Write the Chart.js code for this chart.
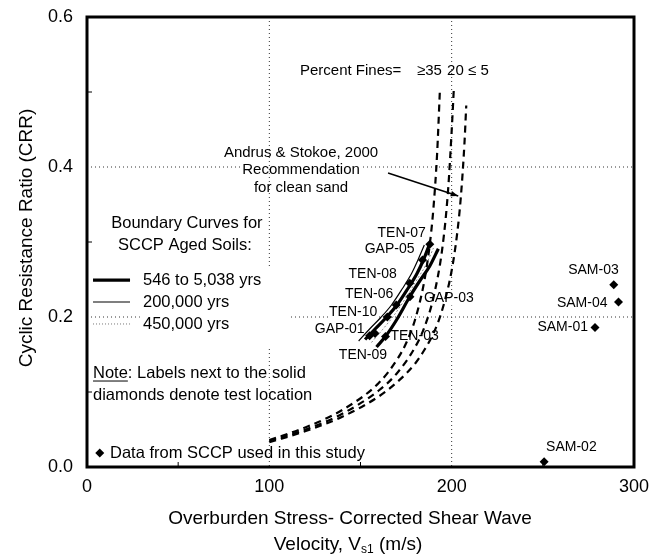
<!DOCTYPE html>
<html>
<head>
<meta charset="utf-8">
<script src="https://cdn.jsdelivr.net/npm/chart.js@4.4.0/dist/chart.umd.min.js"></script>
<style>
  html, body { margin: 0; padding: 0; background: #fff; }
</style>
</head>
<body>
<canvas id="crr-chart" width="651" height="560"></canvas>
<script>
// Andrus & Stokoe (2000) curves
const vsFines35 = [100, 120, 140, 160, 170, 175, 180, 185, 188, 190, 192, 193.5];
const crrFines35 = [0.036, 0.053, 0.076, 0.112, 0.143, 0.165, 0.197, 0.248, 0.297, 0.345, 0.417, 0.500];
const vsFines20 = [100, 120, 140, 160, 170, 180, 185, 190, 195, 198, 200, 201.2];
const crrFines20 = [0.035, 0.050, 0.071, 0.102, 0.125, 0.160, 0.186, 0.226, 0.294, 0.368, 0.448, 0.505];
const vsFines5 = [100, 120, 140, 160, 170, 180, 185, 190, 195, 200, 203, 205, 207, 208];
const crrFines5 = [0.033, 0.048, 0.067, 0.094, 0.113, 0.138, 0.156, 0.178, 0.211, 0.262, 0.311, 0.359, 0.431, 0.482];

// boundary curves for aged soils
const vsAged200k = [149, 155, 161, 167, 173, 178, 181.5, 185];
const crrAged200k = [0.168, 0.184, 0.199, 0.216, 0.238, 0.258, 0.276, 0.296];
const vsAgedYoungA = [152.5, 158, 164, 170, 176, 181, 184.5, 188];
const crrAgedYoungA = [0.170, 0.184, 0.199, 0.216, 0.238, 0.258, 0.276, 0.298];
const vsAgedYoungB = [158.8, 164, 170, 177, 183, 188, 192.7];
const crrAgedYoungB = [0.160, 0.175, 0.197, 0.227, 0.250, 0.268, 0.291];
const vsAged450k = [156, 162, 168, 175, 181, 186, 190];
const crrAged450k = [0.166, 0.183, 0.201, 0.226, 0.250, 0.270, 0.292];

// SCCP test data (solid diamonds)
const sccpNames = ["TEN-07", "GAP-05", "TEN-08", "GAP-03", "TEN-06", "TEN-10", "GAP-01", "TEN-09", "TEN-03"];
const sccpVs = [188, 184, 177, 177.1, 169.6, 164.7, 155, 158, 163.7];
const sccpCrr = [0.297, 0.276, 0.245, 0.227, 0.216, 0.200, 0.175, 0.178, 0.174];
const samNames = ["SAM-03", "SAM-04", "SAM-01", "SAM-02"];
const samVs = [288.9, 291.5, 278.6, 250.7];
const samCrr = [0.243, 0.220, 0.186, 0.007];

const xTicks = [0, 100, 200, 300];
const yTicks = [0, 0.2, 0.4, 0.6];

// label placement next to each diamond: [align, dx, dy] in pixels
const sccpLabelPos = [["right", -4, -11], ["right", -8, -11], ["right", -13, -9], ["left", 14, 1],
  ["right", -3, -11], ["right", -10, -5], ["right", -5, -7], ["right", 12, 22], ["left", 5, 0]];
const samLabelPos = [["right", 5, -15], ["right", -11, 1], ["right", -7, 0], ["left", 2, -15]];

const FONT = "Arial, 'Liberation Sans', sans-serif";

function toPoints(xs, ys) {
  return xs.map((v, i) => ({ x: v, y: ys[i] }));
}

function curve(xs, ys, width, dash, color) {
  return {
    data: toPoints(xs, ys),
    showLine: true,
    borderColor: color || "#000",
    borderWidth: width,
    borderDash: dash || [],
    pointRadius: 0,
    fill: false,
    cubicInterpolationMode: "monotone",
  };
}

function diamonds(xs, ys) {
  return {
    data: toPoints(xs, ys),
    showLine: false,
    pointStyle: "rectRot",
    pointRadius: 4.5,
    backgroundColor: "#000",
    borderColor: "#000",
    borderWidth: 0,
  };
}

// draw one text, optionally with a white box behind it
function drawText(ctx, str, px, py, size, align, mode) {
  ctx.font = size + "px " + FONT;
  ctx.textAlign = align;
  ctx.textBaseline = "middle";
  if (mode === "bg") {
    const w = ctx.measureText(str).width;
    let left = px;
    if (align === "right") left = px - w;
    if (align === "center") left = px - w / 2;
    ctx.fillStyle = "#fff";
    ctx.fillRect(left - 1, py - size * 0.55, w + 2, size * 1.1);
  } else {
    ctx.fillStyle = "#000";
    ctx.fillText(str, px, py);
  }
}

function pointLabels(chart, mode) {
  const ctx = chart.ctx;
  const x = chart.scales.x, y = chart.scales.y;
  sccpNames.forEach((name, i) => {
    const p = sccpLabelPos[i];
    drawText(ctx, name, x.getPixelForValue(sccpVs[i]) + p[1], y.getPixelForValue(sccpCrr[i]) + p[2], 14, p[0], mode);
  });
  samNames.forEach((name, i) => {
    const p = samLabelPos[i];
    drawText(ctx, name, x.getPixelForValue(samVs[i]) + p[1], y.getPixelForValue(samCrr[i]) + p[2], 14, p[0], mode);
  });
}

function dottedLine(ctx, x1, y1, x2, y2) {
  ctx.save();
  ctx.strokeStyle = "#333";
  ctx.lineWidth = 1;
  ctx.setLineDash([1, 3]);
  ctx.beginPath();
  ctx.moveTo(x1, y1);
  ctx.lineTo(x2, y2);
  ctx.stroke();
  ctx.restore();
}

const decorPlugin = {
  id: "decor",
  beforeDatasetsDraw(chart) {
    const { ctx, chartArea: a } = chart;
    const x = chart.scales.x, y = chart.scales.y;
    // horizontal grid
    [0.2, 0.4].forEach((v) => dottedLine(ctx, a.left, y.getPixelForValue(v), a.right, y.getPixelForValue(v)));
    drawText(ctx, "Recommendation", x.getPixelForValue(117.4), y.getPixelForValue(0.396), 15, "center", "bg");
    // vertical grid
    [100, 200].forEach((v) => dottedLine(ctx, x.getPixelForValue(v), a.top, x.getPixelForValue(v), a.bottom));
    // white text box of the legend
    ctx.fillStyle = "#fff";
    const bx1 = x.getPixelForValue(29), bx2 = x.getPixelForValue(111.3);
    const by1 = y.getPixelForValue(0.2667), by2 = y.getPixelForValue(0.16);
    ctx.fillRect(bx1, by1, bx2 - bx1, by2 - by1);
    pointLabels(chart, "bg");
  },
  afterDatasetsDraw(chart) {
    const { ctx, chartArea: a } = chart;
    const x = chart.scales.x, y = chart.scales.y;
    ctx.save();
    // frame
    ctx.strokeStyle = "#000";
    ctx.lineWidth = 3;
    ctx.strokeRect(a.left, a.top, a.right - a.left, a.bottom - a.top);
    // minor ticks
    ctx.lineWidth = 1;
    [50, 150, 250].forEach((v) => {
      const px = x.getPixelForValue(v);
      ctx.beginPath(); ctx.moveTo(px, a.bottom); ctx.lineTo(px, a.bottom - 5); ctx.stroke();
    });
    [0.1, 0.3, 0.5].forEach((v) => {
      const py = y.getPixelForValue(v);
      ctx.beginPath(); ctx.moveTo(a.left, py); ctx.lineTo(a.left + 5, py); ctx.stroke();
    });

    // tick labels
    xTicks.forEach((v) => drawText(ctx, String(v), x.getPixelForValue(v), a.bottom + 20, 18, "center"));
    yTicks.forEach((v) => drawText(ctx, v.toFixed(1), a.left - 14, y.getPixelForValue(v), 18, "right"));

    pointLabels(chart, "text");

    // percent fines header
    const fy = y.getPixelForValue(0.528);
    drawText(ctx, "Percent Fines=", x.getPixelForValue(116.8), fy, 15, "left");
    drawText(ctx, "\u226535", x.getPixelForValue(181), fy, 15, "left");
    drawText(ctx, "20", x.getPixelForValue(197.5), fy, 15, "left");
    drawText(ctx, "\u2264 5", x.getPixelForValue(209), fy, 15, "left");

    // Andrus & Stokoe note with arrow
    const ax = x.getPixelForValue(117.4);
    drawText(ctx, "Andrus & Stokoe, 2000", ax, y.getPixelForValue(0.4187), 15, "center");
    drawText(ctx, "Recommendation", ax, y.getPixelForValue(0.396), 15, "center");
    drawText(ctx, "for clean sand", ax, y.getPixelForValue(0.372), 15, "center");
    const x1 = x.getPixelForValue(165.1), y1 = y.getPixelForValue(0.392);
    const x2 = x.getPixelForValue(203.6), y2 = y.getPixelForValue(0.3613);
    ctx.lineWidth = 1.5;
    ctx.beginPath(); ctx.moveTo(x1, y1); ctx.lineTo(x2, y2); ctx.stroke();
    const ang = Math.atan2(y2 - y1, x2 - x1);
    ctx.fillStyle = "#000";
    ctx.beginPath();
    ctx.moveTo(x2, y2);
    ctx.lineTo(x2 - 8 * Math.cos(ang - 0.35), y2 - 8 * Math.sin(ang - 0.35));
    ctx.lineTo(x2 - 8 * Math.cos(ang + 0.35), y2 - 8 * Math.sin(ang + 0.35));
    ctx.closePath();
    ctx.fill();

    // legend block
    drawText(ctx, "Boundary Curves for", x.getPixelForValue(54.8), y.getPixelForValue(0.3253), 16.5, "center");
    drawText(ctx, "SCCP Aged Soils:", x.getPixelForValue(53.7), y.getPixelForValue(0.296), 16.5, "center");
    const rows = [["546 to 5,038 yrs", 0.2493, 3.2, [], "#000"],
      ["200,000 yrs", 0.22, 1.2, [], "#000"],
      ["450,000 yrs", 0.1907, 1, [1, 2], "#777"]];
    rows.forEach((r) => {
      const py = y.getPixelForValue(r[1]);
      ctx.save();
      ctx.strokeStyle = r[4];
      ctx.lineWidth = r[2];
      ctx.setLineDash(r[3]);
      ctx.beginPath();
      ctx.moveTo(x.getPixelForValue(3.3), py);
      ctx.lineTo(x.getPixelForValue(23.6), py);
      ctx.stroke();
      ctx.restore();
      drawText(ctx, r[0], x.getPixelForValue(30.7), py, 16.5, "left");
    });

    // note
    const nx = x.getPixelForValue(3.3);
    const ny = y.getPixelForValue(0.1253);
    drawText(ctx, "Note", nx, ny, 16.5, "left");
    ctx.font = "16.5px " + FONT;
    const nw = ctx.measureText("Note").width;
    ctx.lineWidth = 1;
    ctx.beginPath(); ctx.moveTo(nx, ny + 8); ctx.lineTo(nx + nw, ny + 8); ctx.stroke();
    drawText(ctx, ": Labels next to the solid", nx + nw, ny, 16.5, "left");
    drawText(ctx, "diamonds denote test location", nx, y.getPixelForValue(0.096), 16.5, "left");

    // data key
    const kx = x.getPixelForValue(7), ky = y.getPixelForValue(0.0187);
    ctx.beginPath();
    ctx.moveTo(kx, ky - 4.5); ctx.lineTo(kx + 4.5, ky); ctx.lineTo(kx, ky + 4.5); ctx.lineTo(kx - 4.5, ky);
    ctx.closePath(); ctx.fill();
    drawText(ctx, "Data from SCCP used in this study", x.getPixelForValue(12.6), ky, 16.5, "left");
    ctx.restore();
  },
  afterDraw(chart) {
    const ctx = chart.ctx;
    ctx.save();
    // y title
    ctx.translate(27, 238);
    ctx.rotate(-Math.PI / 2);
    drawText(ctx, "Cyclic Resistance Ratio (CRR)", 0, 0, 19, "center");
    ctx.restore();
    ctx.save();
    drawText(ctx, "Overburden Stress- Corrected Shear Wave", 350, 519, 19, "center");
    // second line with subscript
    ctx.font = "19px " + FONT;
    const partA = "Velocity, V", partC = " (m/s)";
    const wA = ctx.measureText(partA).width, wC = ctx.measureText(partC).width;
    ctx.font = "12px " + FONT;
    const wB = ctx.measureText("s1").width;
    let sx = 348 - (wA + wB + wC) / 2;
    drawText(ctx, partA, sx, 545, 19, "left");
    drawText(ctx, "s1", sx + wA, 550, 12, "left");
    drawText(ctx, partC, sx + wA + wB, 545, 19, "left");
    ctx.restore();
  },
};

const ctx = document.getElementById("crr-chart").getContext("2d");
const chart = new Chart(ctx, {
  type: "scatter",
  data: {
    datasets: [
      curve(vsFines35, crrFines35, 2.2, [7, 5]),
      curve(vsFines20, crrFines20, 2.2, [7, 5]),
      curve(vsFines5, crrFines5, 2.2, [7, 5]),
      curve(vsAged450k, crrAged450k, 1, [2, 2], "#888"),
      curve(vsAged200k, crrAged200k, 1.2),
      curve(vsAgedYoungA, crrAgedYoungA, 3.2),
      curve(vsAgedYoungB, crrAgedYoungB, 3.2),
      diamonds(sccpVs, sccpCrr),
      diamonds(samVs, samCrr),
    ],
  },
  options: {
    responsive: false,
    animation: false,
    layout: { padding: { top: 17, right: 17, left: 0, bottom: 0 } },
    plugins: { legend: { display: false }, tooltip: { enabled: false } },
    scales: {
      x: {
        type: "linear",
        min: 0,
        max: 300,
        afterBuildTicks: (s) => { s.ticks = xTicks.map((v) => ({ value: v })); },
        afterFit: (s) => { s.height = 93; },
        ticks: { display: false },
        grid: { display: false, drawTicks: false },
        border: { display: false },
      },
      y: {
        type: "linear",
        min: 0,
        max: 0.6,
        afterBuildTicks: (s) => { s.ticks = yTicks.map((v) => ({ value: v })); },
        afterFit: (s) => { s.width = 87; },
        ticks: { display: false },
        grid: { display: false, drawTicks: false },
        border: { display: false },
      },
    },
  },
  plugins: [decorPlugin],
});
</script>
</body>
</html>
